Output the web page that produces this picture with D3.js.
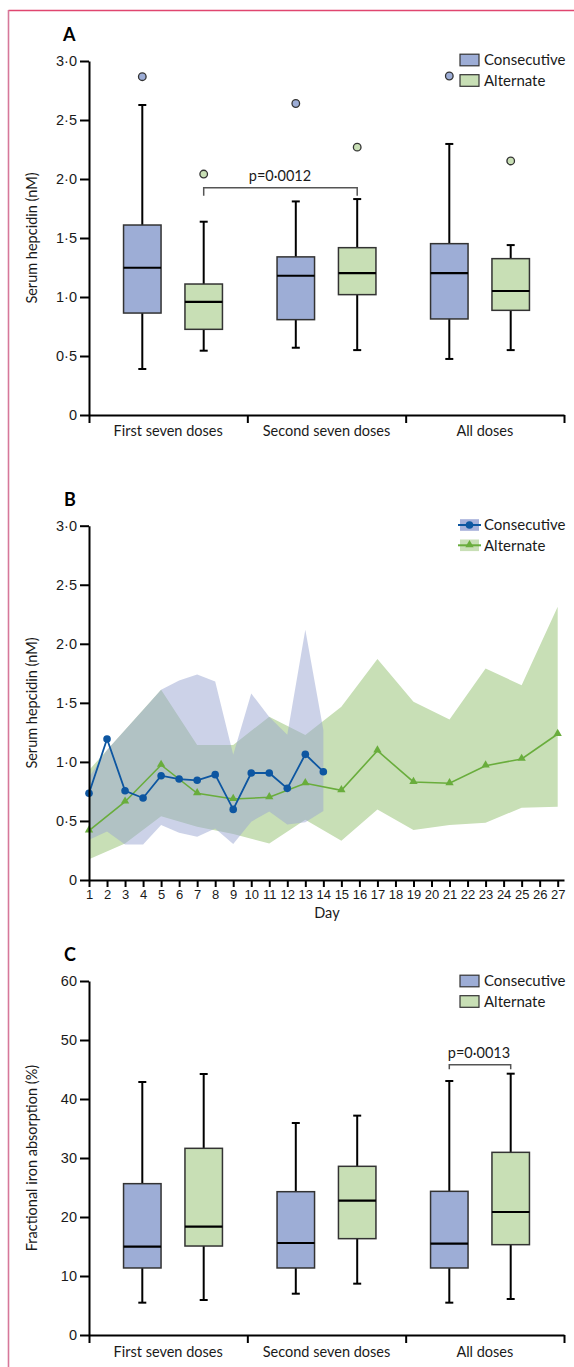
<!DOCTYPE html>
<html><head><meta charset="utf-8">
<script src="https://cdn.jsdelivr.net/npm/d3@7"></script>
<style>
body{margin:0;background:#fff}
svg{display:block;font-family:Lato,'Open Sans',sans-serif}
</style></head><body><svg id="c" width="574" height="1367"></svg>
<script>
// ---------- data ----------
const categories = ["First seven doses", "Second seven doses", "All doses"];
const groups = ["Consecutive", "Alternate"];

// Panel A: serum hepcidin box stats [min, q1, median, q3, max]
const hepConsecutive = [[0.39, 0.864, 1.248, 1.61, 2.627], [0.57, 0.808, 1.18, 1.34, 1.81], [0.475, 0.814, 1.203, 1.452, 2.297]];
const hepAlternate   = [[0.545, 0.726, 0.958, 1.11, 1.638], [0.55, 1.02, 1.203, 1.418, 1.83], [0.55, 0.887, 1.051, 1.325, 1.44]];
const hepOutConsecutive = [2.867, 2.64, 2.873];
const hepOutAlternate   = [2.042, 2.27, 2.153];
const hepTicks = [0, 0.5, 1, 1.5, 2, 2.5, 3];

// Panel B: daily serum hepcidin
const consDays  = [1,2,3,4,5,6,7,8,9,10,11,12,13,14];
const consMean  = [0.734,1.194,0.756,0.694,0.883,0.855,0.844,0.892,0.598,0.906,0.906,0.776,1.064,0.917];
const consUpper = [0.87,1.10,1.27,1.44,1.61,1.69,1.74,1.68,1.06,1.58,1.38,1.23,2.12,1.27];
const consLower = [0.34,0.41,0.30,0.30,0.465,0.40,0.367,0.437,0.305,0.494,0.58,0.47,0.49,0.584];
const altDays   = [1,3,5,7,9,11,13,15,17,19,21,23,25,27];
const altMean   = [0.418,0.663,0.974,0.734,0.686,0.70,0.819,0.759,1.095,0.83,0.819,0.968,1.025,1.236];
const altUpper  = [0.93,1.27,1.61,1.143,1.143,1.383,1.228,1.468,1.871,1.51,1.36,1.79,1.65,2.314];
const altLower  = [0.175,0.31,0.54,0.45,0.39,0.31,0.51,0.333,0.598,0.423,0.466,0.485,0.612,0.621];
const dayTicks  = d3.range(1, 28);

// Panel C: fractional iron absorption box stats
const absConsecutive = [[5.48, 11.36, 14.97, 25.65, 42.88], [7.0, 11.36, 15.59, 24.29, 35.93], [5.48, 11.36, 15.48, 24.35, 43.05]];
const absAlternate   = [[5.93, 15.08, 18.36, 31.64, 44.24], [8.7, 16.33, 22.77, 28.59, 37.18], [6.1, 15.31, 20.85, 30.96, 44.29]];
const absTicks = [0, 10, 20, 30, 40, 50, 60];

// ---------- style ----------
const colCons = "#9dadd6", colAlt = "#c8dfb5";
const bandCons = "#9aa5d2", bandAlt = "#c8dfb6";
const lineCons = "#0d56a1", lineAlt = "#69ad3c";
const ink = "#1a1a1a";
const fmt = d => d === 0 ? "0" : d.toFixed(1).replace(".", "\u00b7");

const svg = d3.select("#c");

// frame
svg.append("line").attr("x1", 8.5).attr("x2", 574).attr("y1", 10.5).attr("y2", 10.5)
  .attr("stroke", "#e0466f").attr("stroke-width", 1.6);
svg.append("line").attr("x1", 8.5).attr("x2", 8.5).attr("y1", 10).attr("y2", 1367)
  .attr("stroke", "#d6789a").attr("stroke-width", 1.6);

const X0 = 89, X1 = 564;
const xBound = d3.scaleLinear().domain([0, 3]).range([X0, X1]);
const xSlot = d3.scaleLinear().domain([0, 6]).range([142.3, 510.7]);
const slot = (i, j) => 2.5 * i + j;
const boxW = 37.5, capW = 8;

function styleAxis(g) {
  g.selectAll("path,line").attr("stroke", "#000").attr("stroke-width", 2);
  g.selectAll("text").attr("fill", ink);
}

function yAxis(y, ticks, format, x) {
  const g = svg.append("g").attr("transform", `translate(${x},0)`)
    .call(d3.axisLeft(y).tickValues(ticks).tickFormat(format).tickSize(9).tickPadding(3).tickSizeOuter(0));
  g.selectAll("text").style("font-size", "14.5px");
  styleAxis(g);
  return g;
}

function catAxis(yPix, labelY) {
  const g = svg.append("g").attr("transform", `translate(0,${yPix})`)
    .call(d3.axisBottom(xBound).tickValues([0, 1, 2, 3]).tickFormat("").tickSize(8).tickSizeOuter(0));
  styleAxis(g);
  svg.append("g").selectAll("text").data(categories).join("text")
    .attr("x", (d, i) => xBound(i + 0.5)).attr("y", labelY)
    .attr("text-anchor", "middle").attr("fill", ink).style("font-size", "14.5px").text(d => d);
}

function yTitle(text, cy) {
  svg.append("text").attr("transform", `translate(37,${cy}) rotate(-90)`)
    .attr("text-anchor", "middle").attr("fill", ink).style("font-size", "14.5px").text(text);
}

function panelLetter(t, x, y) {
  svg.append("text").attr("x", x).attr("y", y).attr("font-weight", "bold")
    .attr("fill", "#000").style("font-size", "18px").text(t);
}

function boxes(y, data, j, fill, outliers) {
  const g = svg.append("g");
  data.forEach((s, i) => {
    const cx = xSlot(slot(i, j));
    g.append("line").attr("x1", cx).attr("x2", cx).attr("y1", y(s[0])).attr("y2", y(s[4]))
      .attr("stroke", "#000").attr("stroke-width", 2);
    [s[0], s[4]].forEach(v => g.append("line").attr("x1", cx - capW / 2).attr("x2", cx + capW / 2)
      .attr("y1", y(v)).attr("y2", y(v)).attr("stroke", "#000").attr("stroke-width", 2));
    g.append("rect").attr("x", cx - boxW / 2).attr("width", boxW)
      .attr("y", y(s[3])).attr("height", y(s[1]) - y(s[3]))
      .attr("fill", fill).attr("stroke", "#333").attr("stroke-width", 1.5);
    g.append("line").attr("x1", cx - boxW / 2).attr("x2", cx + boxW / 2)
      .attr("y1", y(s[2])).attr("y2", y(s[2])).attr("stroke", "#000").attr("stroke-width", 2.2);
    if (outliers) g.append("circle").attr("cx", cx).attr("cy", y(outliers[i])).attr("r", 3.8)
      .attr("fill", fill).attr("stroke", "#333").attr("stroke-width", 1.3);
  });
}

function bracket(x1, x2, yb, tick, label, tx, ty) {
  svg.append("path").attr("d", `M${x1},${yb + tick}V${yb}H${x2}V${yb + tick}`)
    .attr("fill", "none").attr("stroke", "#555").attr("stroke-width", 1.5);
  svg.append("text").attr("x", tx).attr("y", ty).attr("text-anchor", "middle")
    .attr("fill", ink).style("font-size", "14.5px").text(label);
}

function boxLegend(y0) {
  groups.forEach((gname, k) => {
    const yy = y0 + k * 20.5;
    svg.append("rect").attr("x", 460).attr("y", yy - 5.8).attr("width", 19).attr("height", 11.6)
      .attr("fill", k === 0 ? colCons : colAlt).attr("stroke", "#333").attr("stroke-width", 1.2);
    svg.append("text").attr("x", 484).attr("y", yy).attr("dy", "0.35em")
      .attr("fill", ink).style("font-size", "15px").text(gname);
  });
}

// ---------- Panel A ----------
const yA = d3.scaleLinear().domain([0, 3]).range([415, 61]);
panelLetter("A", 63, 41);
boxes(yA, hepConsecutive, 0, colCons, hepOutConsecutive);
boxes(yA, hepAlternate, 1, colAlt, hepOutAlternate);
bracket(xSlot(slot(0, 1)), xSlot(slot(1, 1)), yA(1.925), 8, "p=0\u00b70012", 280, 181);
catAxis(415, 436);
yAxis(yA, hepTicks, fmt, X0);
yTitle("Serum hepcidin (nM)", 238);
boxLegend(60);

// ---------- Panel B ----------
const yB = d3.scaleLinear().domain([0, 3]).range([880, 525.7]);
const xB = d3.scaleLinear().domain([1, 27.35]).range([X0, X1]);
panelLetter("B", 64, 506);

const altBand = altDays.map((d, i) => ({ d, lo: altLower[i], hi: altUpper[i] }));
const consBand = consDays.map((d, i) => ({ d, lo: consLower[i], hi: consUpper[i] }));
const area = d3.area().x(p => xB(p.d)).y0(p => yB(p.lo)).y1(p => yB(p.hi));
svg.append("path").datum(altBand).attr("d", area).attr("fill", bandAlt);
svg.append("path").datum(consBand).attr("d", area).attr("fill", bandCons).attr("fill-opacity", 0.5);

const line = d3.line().x(p => xB(p.d)).y(p => yB(p.v));
const altPts = altDays.map((d, i) => ({ d, v: altMean[i] }));
const consPts = consDays.map((d, i) => ({ d, v: consMean[i] }));
svg.append("path").datum(altPts).attr("d", line).attr("fill", "none").attr("stroke", lineAlt).attr("stroke-width", 1.6);
svg.append("g").selectAll("path").data(altPts).join("path")
  .attr("transform", p => `translate(${xB(p.d)},${yB(p.v) - 0.5})`)
  .attr("d", d3.symbol(d3.symbolTriangle, 30)).attr("fill", lineAlt);
svg.append("path").datum(consPts).attr("d", line).attr("fill", "none").attr("stroke", lineCons).attr("stroke-width", 1.8);
svg.append("g").selectAll("circle").data(consPts).join("circle")
  .attr("cx", p => xB(p.d)).attr("cy", p => yB(p.v)).attr("r", 3.8).attr("fill", lineCons);

const gxB = svg.append("g").attr("transform", "translate(0,880)")
  .call(d3.axisBottom(xB).tickValues(dayTicks).tickFormat(d3.format("d")).tickSize(7).tickPadding(3).tickSizeOuter(0));
gxB.selectAll("text").style("font-size", "13px");
styleAxis(gxB);
svg.append("text").attr("x", xB(14.2)).attr("y", 918).attr("text-anchor", "middle")
  .attr("fill", ink).style("font-size", "14.5px").text("Day");
yAxis(yB, hepTicks, fmt, X0);
yTitle("Serum hepcidin (nM)", 703);

// legend B
groups.forEach((gname, k) => {
  const yy = 525 + k * 20.3;
  svg.append("rect").attr("x", 460).attr("y", yy - 5.8).attr("width", 19).attr("height", 11.6)
    .attr("fill", k === 0 ? "#a6b0da" : bandAlt);
  svg.append("line").attr("x1", 458).attr("x2", 481).attr("y1", yy).attr("y2", yy)
    .attr("stroke", k === 0 ? lineCons : lineAlt).attr("stroke-width", 2);
  if (k === 0) svg.append("circle").attr("cx", 469.5).attr("cy", yy).attr("r", 3.8).attr("fill", lineCons);
  else svg.append("path").attr("transform", `translate(469.5,${yy - 0.5})`)
    .attr("d", d3.symbol(d3.symbolTriangle, 30)).attr("fill", lineAlt);
  svg.append("text").attr("x", 484).attr("y", yy).attr("dy", "0.35em")
    .attr("fill", ink).style("font-size", "15px").text(gname);
});

// ---------- Panel C ----------
const yC = d3.scaleLinear().domain([0, 60]).range([1335, 981]);
panelLetter("C", 64, 961);
boxes(yC, absConsecutive, 0, colCons, null);
boxes(yC, absAlternate, 1, colAlt, null);
bracket(xSlot(slot(2, 0)), xSlot(slot(2, 1)), yC(45.8), 4.5, "p=0\u00b70013", 479, 1058);
catAxis(1335, 1357);
yAxis(yC, absTicks, d3.format("d"), X0);
yTitle("Fractional iron absorption (%)", 1158);
boxLegend(981);
</script></body></html>
